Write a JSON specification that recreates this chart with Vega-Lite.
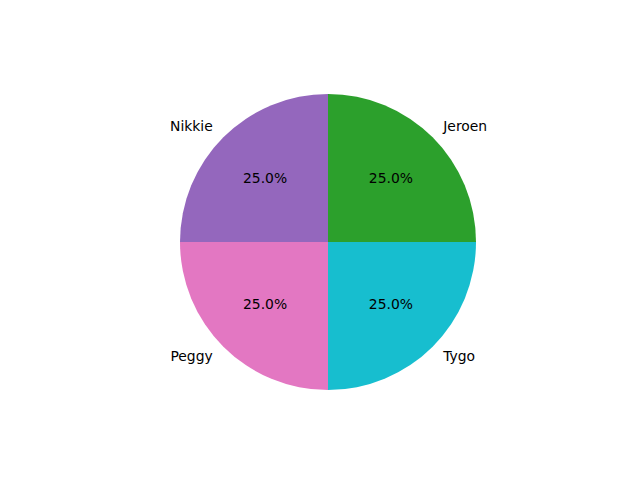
{
  "$schema": "https://vega.github.io/schema/vega-lite/v6.json",
  "width": 624,
  "height": 476,
  "autosize": "none",
  "padding": {"left": 16, "top": 4, "right": 0, "bottom": 0},
  "background": "white",
  "config": {"view": {"stroke": null}},
  "data": {
    "values": [
      {"name": "Jeroen", "value": 1, "k": 1, "pct": "25.0%", "side": "right"},
      {"name": "Tygo", "value": 1, "k": 2, "pct": "25.0%", "side": "right"},
      {"name": "Peggy", "value": 1, "k": 3, "pct": "25.0%", "side": "left"},
      {"name": "Nikkie", "value": 1, "k": 4, "pct": "25.0%", "side": "left"}
    ]
  },
  "encoding": {
    "theta": {"field": "value", "type": "quantitative", "stack": true},
    "order": {"field": "k", "type": "quantitative"}
  },
  "layer": [
    {
      "mark": {"type": "arc", "outerRadius": 148},
      "encoding": {
        "color": {
          "field": "name",
          "type": "nominal",
          "scale": {
            "domain": ["Jeroen", "Tygo", "Peggy", "Nikkie"],
            "range": ["#2ca02c", "#17becf", "#e377c2", "#9467bd"]
          },
          "legend": null
        }
      }
    },
    {
      "mark": {
        "type": "text",
        "radius": 163,
        "font": "DejaVu Sans",
        "fontSize": 13.9,
        "baseline": "middle",
        "color": "black",
        "align": {"expr": "datum.side == 'right' ? 'left' : 'right'"}
      },
      "encoding": {"text": {"field": "name"}}
    },
    {
      "mark": {
        "type": "text",
        "radius": 89,
        "font": "DejaVu Sans",
        "fontSize": 13.9,
        "baseline": "middle",
        "align": "center",
        "color": "black"
      },
      "encoding": {"text": {"field": "pct"}}
    }
  ]
}
